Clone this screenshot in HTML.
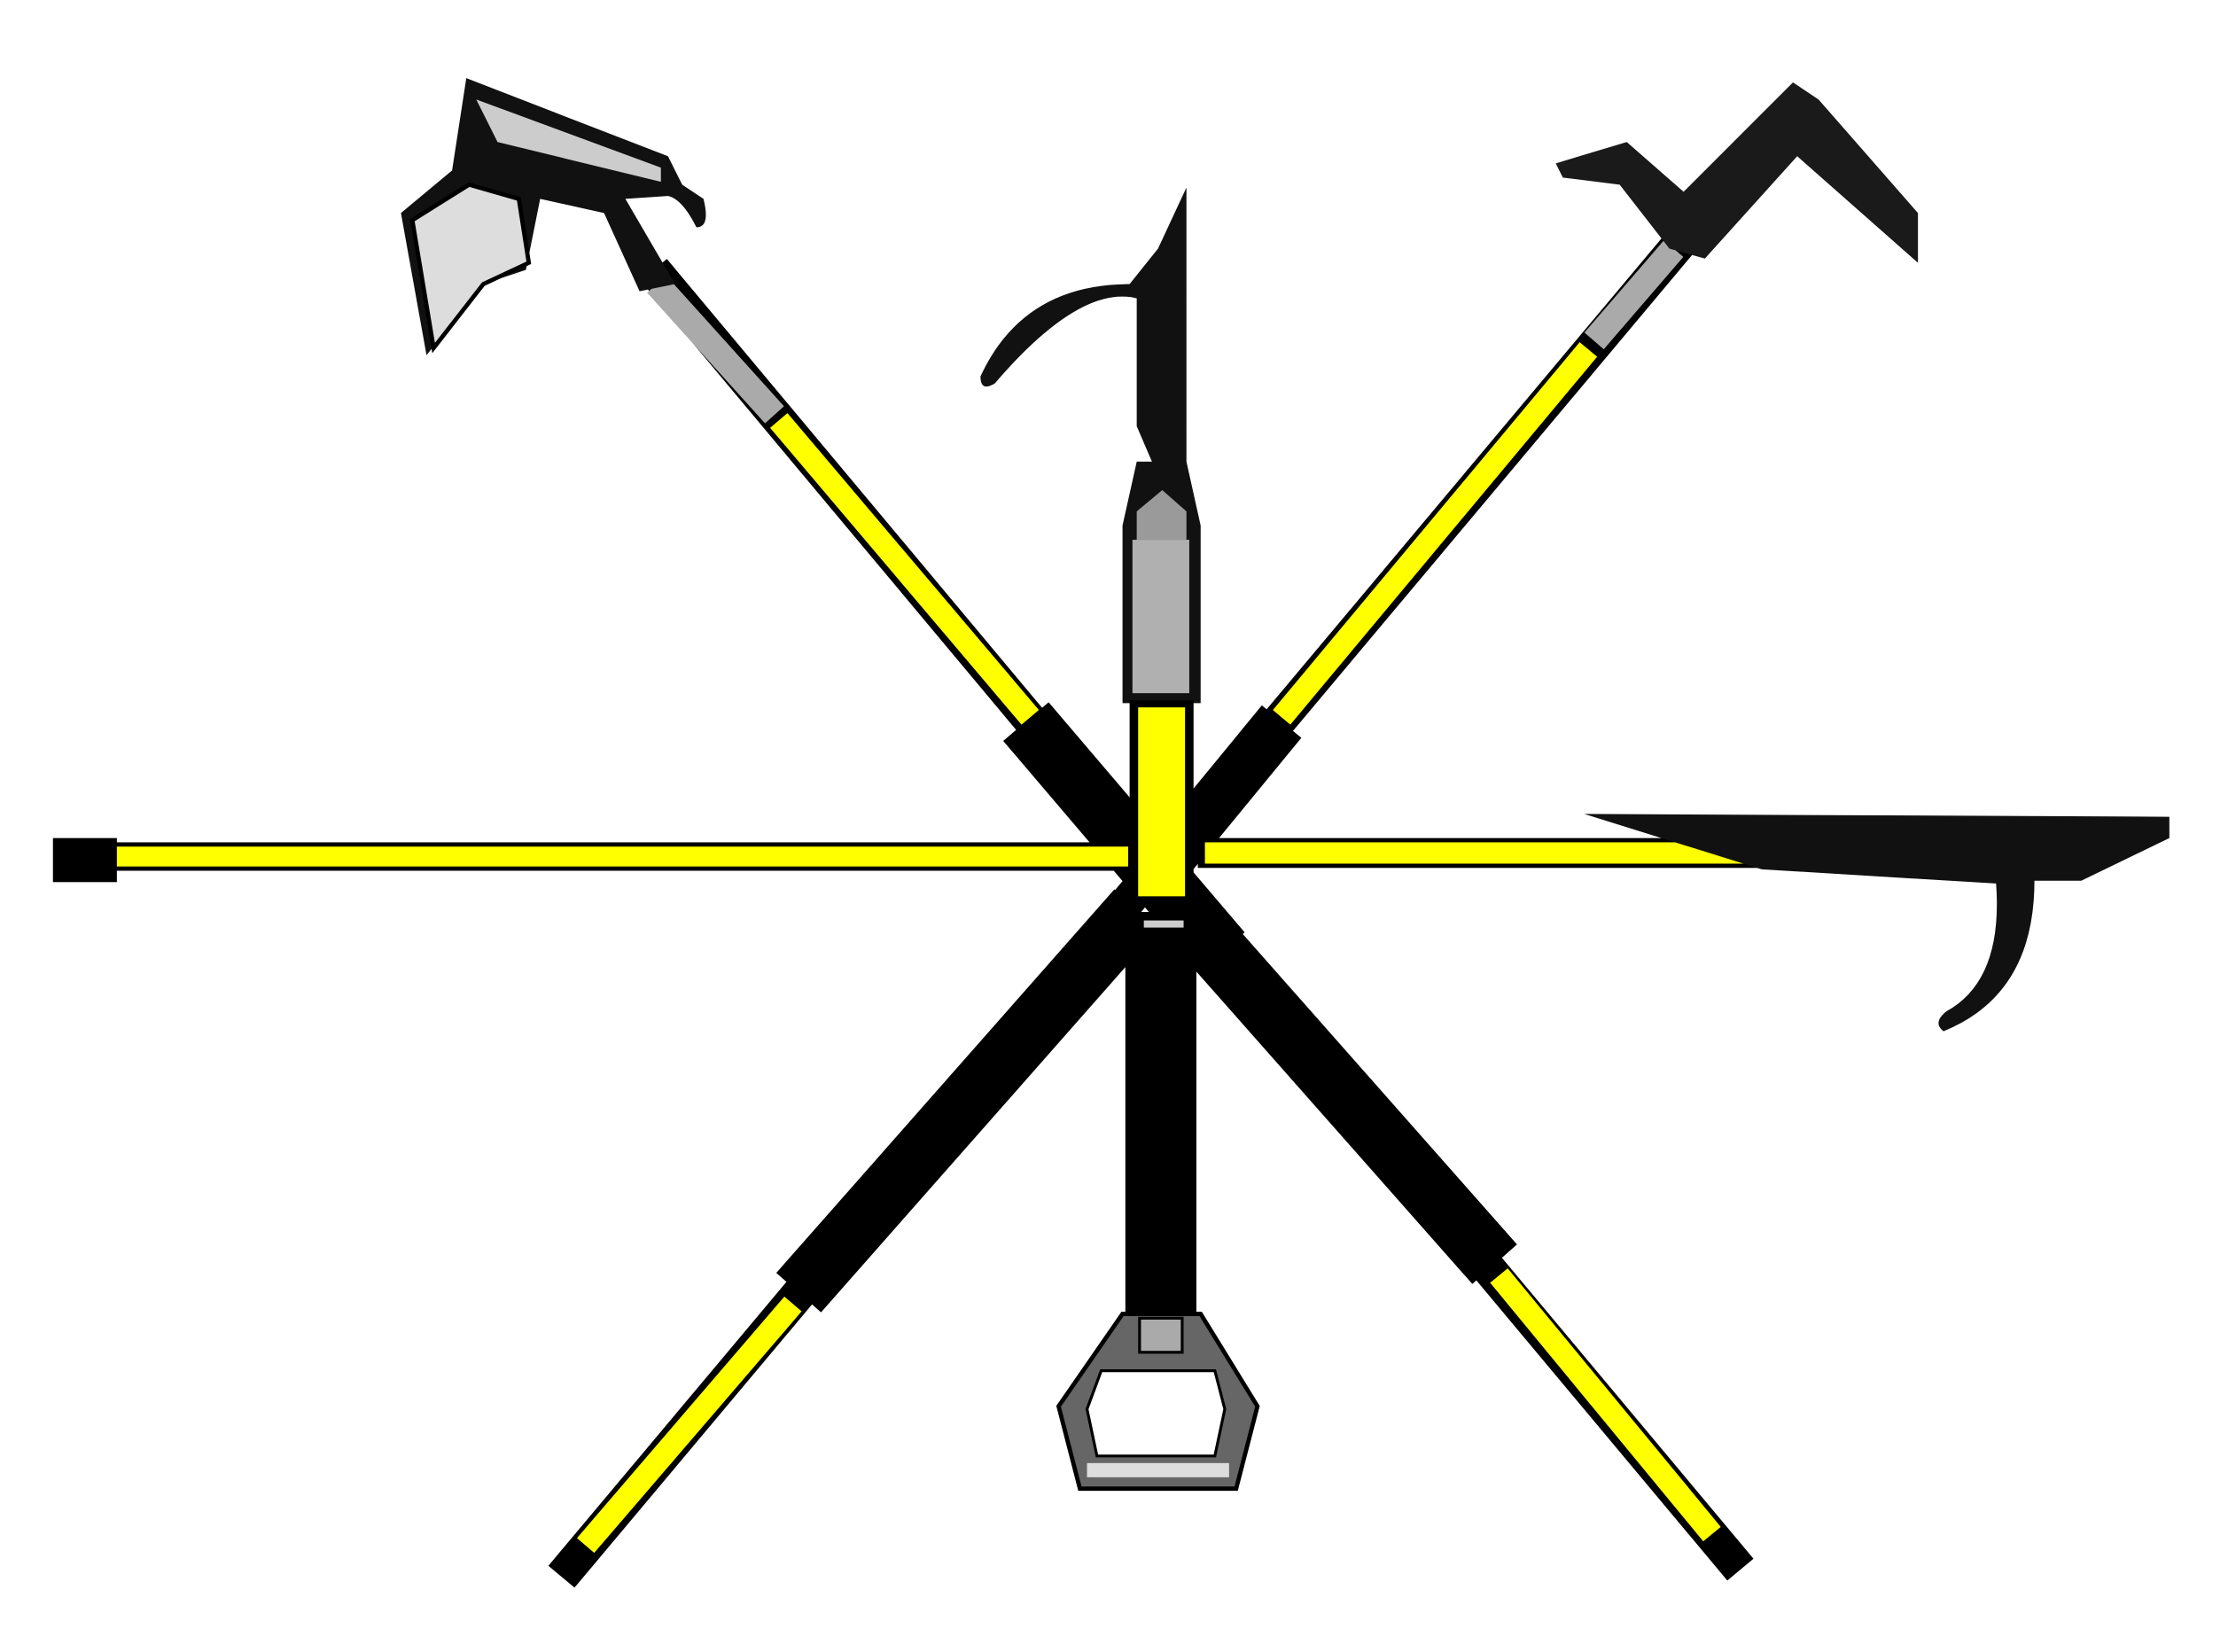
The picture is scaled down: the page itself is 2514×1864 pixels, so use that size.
<!DOCTYPE html>
<html><head><meta charset="utf-8"><style>
html,body{margin:0;padding:0;background:#fff;}
svg{display:block;}
</style></head><body>
<svg width="2514" height="1864" viewBox="0 0 1568 1163" xmlns="http://www.w3.org/2000/svg">
<rect width="1568" height="1163" fill="#fff"/>
<g stroke-linecap="butt">
<!-- diagonal TL -> BR -->
<line x1="460" y1="190" x2="1225" y2="1105" stroke="#000" stroke-width="24"/>
<line x1="462" y1="200" x2="545" y2="292" stroke="#aaa" stroke-width="18"/>
<line x1="548" y1="296" x2="725" y2="505" stroke="#ff0" stroke-width="16"/>
<line x1="722" y1="508" x2="860" y2="670" stroke="#000" stroke-width="42"/>
<line x1="840" y1="650" x2="1052" y2="890" stroke="#000" stroke-width="42"/>
<line x1="1055" y1="898" x2="1205" y2="1080" stroke="#ff0" stroke-width="16"/>
<!-- diagonal TR -> BL -->
<line x1="1185" y1="168" x2="395" y2="1110" stroke="#000" stroke-width="24"/>
<line x1="1178" y1="175" x2="1122" y2="240" stroke="#aaa" stroke-width="18"/>
<line x1="1118" y1="246" x2="902" y2="505" stroke="#ff0" stroke-width="16"/>
<line x1="902" y1="508" x2="810" y2="620" stroke="#000" stroke-width="36"/>
<line x1="800" y1="640" x2="562" y2="910" stroke="#000" stroke-width="42"/>
<line x1="558" y1="918" x2="412" y2="1088" stroke="#ff0" stroke-width="16"/>
</g>
<!-- horizontal pole -->
<rect x="37" y="590" width="45" height="31" fill="#000"/>
<rect x="78" y="593" width="722" height="20" fill="#000"/>
<rect x="82" y="596" width="712" height="14" fill="#ff0"/>
<rect x="843" y="590" width="410" height="21" fill="#000"/>
<rect x="848" y="593" width="390" height="15" fill="#ff0"/>
<path d="M1115 573 L1527 575 L1527 590 L1465 620 L1432 620 Q1432 700 1368 726 Q1360 720 1370 712 Q1410 690 1405 622 L1240 612 Z" fill="#111"/>
<!-- vertical center tool -->
<path d="M835 132 L835 335 L815 335 L800 300 L800 210 Q760 200 700 270 Q690 276 690 265 Q720 200 795 200 L815 175 Z" fill="#111"/>
<path d="M800 325 L835 325 L845 370 L845 495 L790 495 L790 370 Z" fill="#111"/>
<rect x="797" y="380" width="40" height="108" fill="#b0b0b0"/>
<path d="M800 360 L818 345 L835 360 L835 380 L800 380 Z" fill="#9a9a9a"/>
<rect x="795" y="493" width="45" height="145" fill="#000"/>
<rect x="801" y="498" width="33" height="133" fill="#ff0"/>
<rect x="792" y="642" width="50" height="285" fill="#000"/>
<rect x="805" y="648" width="28" height="5" fill="#ccc"/>
<path d="M790 925 L845 925 L885 990 L870 1048 L760 1048 L745 990 Z" fill="#666" stroke="#000" stroke-width="3"/>
<path d="M775 965 L855 965 L862 992 L855 1025 L772 1025 L765 992 Z" fill="#fff" stroke="#000" stroke-width="2"/>
<rect x="765" y="1030" width="100" height="10" fill="#ddd"/>
<rect x="802" y="928" width="30" height="24" fill="#aaa" stroke="#000" stroke-width="2"/>
<!-- TL hook head -->
<path d="M328 55 L470 110 L480 130 L495 140 Q500 160 490 160 Q480 140 470 138 L440 140 L475 200 L450 205 L425 150 L380 140 L370 190 L340 200 L300 250 L282 150 L318 120 Z" fill="#111"/>
<path d="M290 155 L330 130 L365 140 L372 185 L340 200 L305 245 Z" fill="#ddd" stroke="#000" stroke-width="3"/>
<path d="M335 70 L465 118 L465 128 L350 100 Z" fill="#ccc"/>
<!-- TR head -->
<path d="M1095 115 L1145 100 L1185 135 L1262 58 L1280 70 L1350 150 L1350 185 L1265 110 L1200 182 L1175 175 L1140 130 L1100 125 Z" fill="#1a1a1a"/>
</svg>
</body></html>
